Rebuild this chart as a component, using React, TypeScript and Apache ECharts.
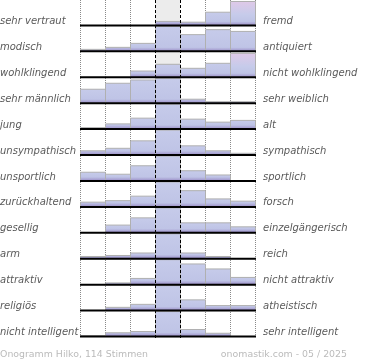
import React, { useEffect, useRef } from 'react';
import * as echarts from 'echarts';

const leftLabels = ['sehr vertraut', 'modisch', 'wohlklingend', 'sehr männlich', 'jung', 'unsympathisch', 'unsportlich', 'zurückhaltend', 'gesellig', 'arm', 'attraktiv', 'religiös', 'nicht intelligent'];
const rightLabels = ['fremd', 'antiquiert', 'nicht wohlklingend', 'sehr weiblich', 'alt', 'sympathisch', 'sportlich', 'forsch', 'einzelgängerisch', 'reich', 'nicht attraktiv', 'atheistisch', 'sehr intelligent'];

// share per scale step, in % of the row height (100 = full row, larger values are cut)
const rowShares: number[][] = [
  [0, 0, 0, 16, 13, 53, 96],
  [8, 16, 32, 100, 67, 87, 80],
  [0, 0, 25, 52, 36, 56, 96],
  [56, 80, 93, 100, 16, 6, 6],
  [6, 21, 44, 100, 40, 28, 35],
  [17, 27, 57, 100, 37, 17, 7],
  [35, 27, 61, 100, 41, 24, 0],
  [19, 25, 43, 100, 65, 32, 23],
  [0, 31, 60, 100, 40, 40, 24],
  [9, 13, 23, 100, 23, 9, 0],
  [0, 7, 25, 100, 83, 63, 29],
  [0, 13, 25, 100, 43, 20, 20],
  [4, 15, 20, 100, 28, 13, 0],
];

const dottedTicks = [0, 1, 2, 5, 6, 7];
const dashedTicks = [3, 4];
const footerLeft = 'Onogramm Hilko, 114 Stimmen';
const footerRight = 'onomastik.com - 05 / 2025';

export default function App() {
  const ref = useRef<HTMLDivElement>(null);
  useEffect(() => {
    const chart = echarts.init(ref.current!, null, { renderer: 'svg' });
    const barData: number[][] = [];
    rowShares.forEach((row, r) => row.forEach((v, c) => barData.push([c, r, v])));
    const labelStyle = {
      fontFamily: 'DejaVu Sans',
      fontStyle: 'italic' as const,
      fontSize: 10,
      color: '#5a5a5a',
      align: 'left' as const,
      verticalAlign: 'top' as const,
      lineHeight: 15,
      interval: 0,
    };
    const option: any = {
      animation: false,
      grid: { left: 80, top: 0, width: 175, height: 337, outerBoundsMode: 'none', containLabel: false },
      xAxis: { type: 'value', min: 0, max: 7, interval: 1, show: false },
      yAxis: [
        {
          type: 'category', data: leftLabels, inverse: true, position: 'left',
          axisLine: { show: false }, axisTick: { show: false }, splitLine: { show: false },
          axisLabel: { ...labelStyle, margin: 80 },
        },
        {
          type: 'category', data: rightLabels, inverse: true, position: 'right',
          axisLine: { show: false }, axisTick: { show: false }, splitLine: { show: false },
          axisLabel: { ...labelStyle, margin: 8 },
        },
      ],
      graphic: [
        { type: 'text', x: 0, y: 353, style: { text: footerLeft, fill: '#bbbbbb', font: '9.4px "DejaVu Sans"', align: 'left', verticalAlign: 'middle' } },
        { type: 'text', x: 347, y: 353, style: { text: footerRight, fill: '#bbbbbb', font: '9.4px "DejaVu Sans"', align: 'right', verticalAlign: 'middle' } },
      ],
      series: [
        {
          type: 'custom', z: 1, silent: true, clip: false,
          data: [[3, 0]],
          renderItem: (params: any, api: any) => {
            const cs = params.coordSys;
            const x0 = api.coord([api.value(0), 0])[0];
            const x1 = api.coord([api.value(0) + 1, 0])[0];
            return { type: 'rect', shape: { x: x0, y: cs.y, width: x1 - x0, height: cs.height + 1 }, style: { fill: '#ececec' } };
          },
        },
        {
          type: 'custom', z: 2, silent: true, clip: false,
          data: dottedTicks.map((t) => [t, 0]),
          renderItem: (params: any, api: any) => {
            const cs = params.coordSys;
            const x = Math.round(api.coord([api.value(0), 0])[0]) + 0.5;
            return { type: 'line', shape: { x1: x, y1: cs.y, x2: x, y2: cs.y + cs.height + 1 }, style: { stroke: '#8a8a8a', lineWidth: 1, lineDash: [1, 1] } };
          },
        },
        {
          type: 'custom', z: 3, silent: true, clip: false,
          data: barData,
          renderItem: (params: any, api: any) => {
            const c = api.value(0), r = api.value(1), v = api.value(2);
            if (!v) return { type: 'group', children: [] };
            const p0 = api.coord([c, r]);
            const p1 = api.coord([c + 1, r]);
            const band = api.size([0, 1])[1];
            const bottom = p0[1] + band / 2 - 0.5;
            const h = (Math.min(v, 100) / 100) * (band - 1);
            const top = bottom - h;
            const purpleStart = Math.max(0, 1 - 4 / h);
            const pink = v >= 95 && v < 100;
            const stops = pink
              ? [
                  { offset: 0, color: '#dfc9e8' },
                  { offset: 0.55, color: '#c6cbea' },
                  { offset: purpleStart, color: '#bfc4e6' },
                  { offset: 1, color: '#9a8cc6' },
                ]
              : [
                  { offset: 0, color: '#c6cbea' },
                  { offset: purpleStart, color: '#bfc4e6' },
                  { offset: 1, color: '#9a8cc6' },
                ];
            return {
              type: 'rect',
              shape: { x: Math.round(p0[0]) + 0.5, y: top, width: Math.round(p1[0]) - Math.round(p0[0]), height: h },
              style: { fill: new echarts.graphic.LinearGradient(0, top, 0, bottom, stops, true), stroke: '#b0b0b0', lineWidth: 1 },
            };
          },
        },
        {
          type: 'custom', z: 4, silent: true, clip: false,
          data: leftLabels.map((_, i) => [0, i]),
          renderItem: (params: any, api: any) => {
            const r = api.value(1);
            const p0 = api.coord([0, r]);
            const p1 = api.coord([7, r]);
            const band = api.size([0, 1])[1];
            const y = p0[1] + band / 2 - 0.5;
            return { type: 'line', shape: { x1: p0[0], y1: y, x2: p1[0] + 1, y2: y }, style: { stroke: '#000', lineWidth: 2 } };
          },
        },
        {
          type: 'custom', z: 5, silent: true, clip: false,
          data: dashedTicks.map((t) => [t, 0]),
          renderItem: (params: any, api: any) => {
            const cs = params.coordSys;
            const x = Math.round(api.coord([api.value(0), 0])[0]) + 0.5;
            return { type: 'line', shape: { x1: x, y1: cs.y, x2: x, y2: cs.y + cs.height + 1 }, style: { stroke: '#000', lineWidth: 1, lineDash: [3, 2] } };
          },
        },
      ],
    };
    chart.setOption(option);
    return () => chart.dispose();
  }, []);
  return <div ref={ref} style={{ position: 'fixed', left: 0, top: 0, width: 370, height: 360 }} />;
}
